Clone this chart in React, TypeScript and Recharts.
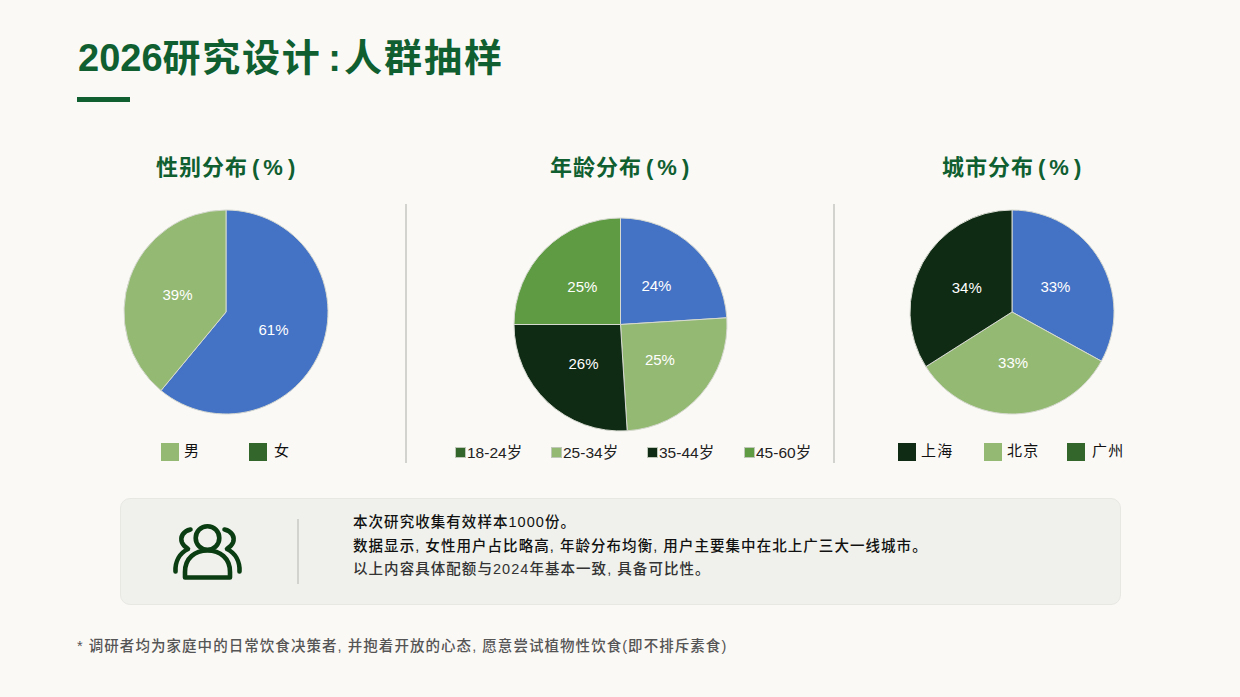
import React from 'react';
import { PieChart, Pie, Cell } from 'recharts';

const FONT = '"Liberation Sans", "Noto Sans CJK SC", sans-serif';
const BLUE = '#4472C4';
const LIGHT = '#94B973';
const DARK = '#0F2B14';
const MID = '#5E9B42';
const LEG = '#33662B';
const GREEN = '#0F5F31';

const genderNames = ['女', '男'];
const genderValues = [61, 39];
const genderColors = [BLUE, LIGHT];
const ageNames = ['18-24岁', '25-34岁', '35-44岁', '45-60岁'];
const ageValues = [24, 25, 26, 25];
const ageColors = [BLUE, LIGHT, DARK, MID];
const cityNames = ['广州', '北京', '上海'];
const cityValues = [33, 33, 34];
const cityColors = [BLUE, LIGHT, DARK];

const toRows = (names: string[], values: number[]) => names.map((name, i) => ({ name, value: values[i] }));

const RAD = Math.PI / 180;
const pctLabel = (p: any) => {
  const r = p.outerRadius / 2;
  const x = p.cx + r * Math.cos(-p.midAngle * RAD);
  const y = p.cy + r * Math.sin(-p.midAngle * RAD);
  return (
    <text x={x - 0.5} y={y} fill="#fff" fontSize={15} fontFamily={FONT} textAnchor="middle" dominantBaseline="central">
      {`${p.value}%`}
    </text>
  );
};

function PieBox({ cx, cy, r, rows, colors }: any) {
  const pad = 4;
  const size = (r + pad) * 2;
  return (
    <div style={{ position: 'absolute', left: cx - r - pad, top: cy - r - pad }}>
      <PieChart width={size} height={size} margin={{ top: 0, right: 0, bottom: 0, left: 0 }}>
        <Pie
          data={rows}
          dataKey="value"
          nameKey="name"
          cx={r + pad}
          cy={r + pad}
          outerRadius={r}
          startAngle={90}
          endAngle={-270}
          stroke="#D6D9D0"
          strokeWidth={1}
          label={pctLabel}
          labelLine={false}
          isAnimationActive={false}
        >
          {rows.map((_: any, i: number) => (
            <Cell key={i} fill={colors[i]} />
          ))}
        </Pie>
      </PieChart>
    </div>
  );
}

function T({ x, y, size, color = '#111', weight = 400, ls = 0, children }: any) {
  return (
    <div
      style={{
        position: 'absolute',
        left: x,
        top: y,
        fontSize: size,
        color,
        fontWeight: weight,
        letterSpacing: ls,
        lineHeight: 1,
        whiteSpace: 'pre',
        fontFamily: FONT,
        transform: 'translateY(-50%)',
      }}
    >
      {children}
    </div>
  );
}

function Swatch({ x, y, s, color, edge }: any) {
  return (
    <div
      style={{
        position: 'absolute',
        left: x,
        top: y,
        width: s,
        height: s,
        background: color,
        boxSizing: 'border-box',
        border: edge ? '1px solid #BFC7B8' : 'none',
      }}
    />
  );
}

function ChartTitle({ x, name }: any) {
  return (
    <T x={x} y={168} size={22} weight={700} color={GREEN} ls={1}>
      {name}
      <span style={{ marginLeft: 4, marginRight: 3 }}>(</span>
      %
      <span style={{ marginLeft: 4 }}>)</span>
    </T>
  );
}

const genderLegend = [
  { label: '男', color: LIGHT, sx: 161, tx: 184 },
  { label: '女', color: LEG, sx: 249, tx: 274 },
];
const ageLegend = [
  { label: '18-24岁', color: LEG, sx: 455, tx: 467 },
  { label: '25-34岁', color: LIGHT, sx: 551, tx: 563 },
  { label: '35-44岁', color: DARK, sx: 647, tx: 659 },
  { label: '45-60岁', color: MID, sx: 744, tx: 756 },
];
const cityLegend = [
  { label: '上海', color: DARK, sx: 898, tx: 921 },
  { label: '北京', color: LIGHT, sx: 984, tx: 1007 },
  { label: '广州', color: LEG, sx: 1067, tx: 1092 },
];

const panelLines = [
  '本次研究收集有效样本1000份。',
  '数据显示, 女性用户占比略高, 年龄分布均衡, 用户主要集中在北上广三大一线城市。',
  '以上内容具体配额与2024年基本一致, 具备可比性。',
];

export default function App() {
  return (
    <div style={{ position: 'absolute', left: 0, top: 0, width: 1240, height: 697, background: '#FBF9F6', overflow: 'hidden', fontFamily: FONT }}>
      <T x={78} y={58} size={38} weight={700} color={GREEN}>
        2026
        <span style={{ letterSpacing: 1.7 }}>研究设计</span>
        <span style={{ marginLeft: 7, marginRight: 3 }}>:</span>
        <span style={{ letterSpacing: 2 }}>人群抽样</span>
      </T>
      <div style={{ position: 'absolute', left: 77, top: 97, width: 53, height: 5, background: GREEN }} />

      <ChartTitle x={156} name="性别分布" />
      <ChartTitle x={550} name="年龄分布" />
      <ChartTitle x={942} name="城市分布" />

      <div style={{ position: 'absolute', left: 405, top: 204, width: 2, height: 259, background: '#D2D2CE' }} />
      <div style={{ position: 'absolute', left: 833, top: 204, width: 2, height: 259, background: '#D2D2CE' }} />

      <PieBox cx={226} cy={312} r={102} rows={toRows(genderNames, genderValues)} colors={genderColors} />
      <PieBox cx={620} cy={324.5} r={106.5} rows={toRows(ageNames, ageValues)} colors={ageColors} />
      <PieBox cx={1012} cy={312} r={102} rows={toRows(cityNames, cityValues)} colors={cityColors} />

      {genderLegend.map((l) => (
        <React.Fragment key={l.label}>
          <Swatch x={l.sx} y={443} s={18} color={l.color} />
          <T x={l.tx} y={449.5} size={15}>{l.label}</T>
        </React.Fragment>
      ))}
      {ageLegend.map((l) => (
        <React.Fragment key={l.label}>
          <Swatch x={l.sx} y={447} s={11} color={l.color} edge />
          <T x={l.tx} y={453} size={15.5} color="#222">{l.label}</T>
        </React.Fragment>
      ))}
      {cityLegend.map((l) => (
        <React.Fragment key={l.label}>
          <Swatch x={l.sx} y={443} s={18} color={l.color} />
          <T x={l.tx} y={449.5} size={15} ls={1.2}>{l.label}</T>
        </React.Fragment>
      ))}

      <div style={{ position: 'absolute', left: 119.5, top: 497.5, width: 1001, height: 107, boxSizing: 'border-box', background: '#F0F1EC', border: '1px solid #E8E8E3', borderRadius: 10 }} />
      <div style={{ position: 'absolute', left: 297, top: 519, width: 2, height: 65, background: '#D2D2CE' }} />

      <svg style={{ position: 'absolute', left: 0, top: 1.5 }} width={1240} height={697} fill="none" stroke="#0B3D12" strokeWidth={4.6} strokeLinecap="round" strokeLinejoin="round">
        <circle cx={207.5} cy={536} r={11.8} />
        <path d="M185 575.5 V570 C185 556 195 548.5 207.5 548.5 C220 548.5 230 556 230 570 V575.5 Z" />
        <path d="M190.500 527.500 C183 529 180 535 182 540.500 C183 543 185 545 188 547 C180 551 175 559 175.500 569.500" />
        <path d="M224.500 527.500 C232 529 235 535 233 540.500 C232 543 230 545 227 547 C235 551 240 559 239.500 569.500" />
      </svg>

      {panelLines.map((line, i) => (
        <T key={i} x={353} y={[522, 546, 569][i]} size={14.5} weight={500} ls={1.05} color={i === 2 ? '#333' : '#111'}>{line}</T>
      ))}

      <T x={77} y={646} size={14.5} weight={500} ls={1.05} color="#555">
        * 调研者均为家庭中的日常饮食决策者, 并抱着开放的心态, 愿意尝试植物性饮食(即不排斥素食)
      </T>
    </div>
  );
}
